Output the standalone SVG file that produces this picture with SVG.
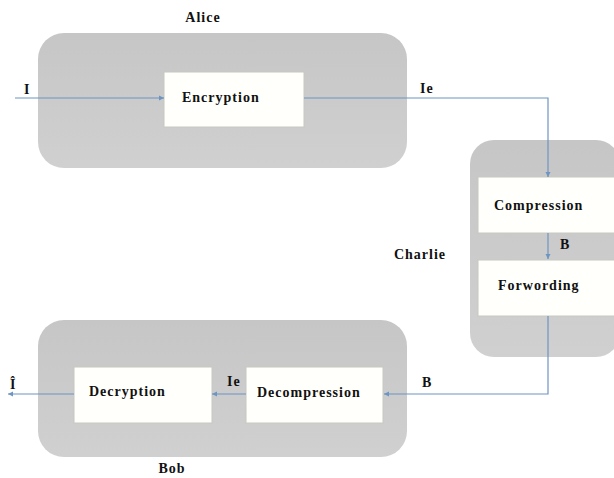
<svg xmlns="http://www.w3.org/2000/svg" width="614" height="478" viewBox="0 0 614 478">
<style>
.cont{fill:url(#g);}
.box{fill:#fffffb;stroke:#c8c8c0;stroke-width:1;}
.t{font-family:"Liberation Serif",serif;font-weight:bold;font-size:14px;letter-spacing:1px;fill:#111;}
.c{fill:none;stroke:#6d95c2;stroke-width:1.2;}
</style>
<defs>
<linearGradient id="g" x1="0" y1="0" x2="0" y2="1">
<stop offset="0" stop-color="#c6c6c6"/>
<stop offset="1" stop-color="#d0d0d0"/>
</linearGradient>
<marker id="a" markerWidth="6" markerHeight="6" refX="5" refY="3" orient="auto" markerUnits="userSpaceOnUse">
<path d="M0,0.5 L5,3 L0,5.5 z" fill="#6d95c2"/>
</marker>
</defs>
<g id="alice">
<rect class="cont" x="38" y="33" width="369" height="135" rx="26"/>
<text class="t" x="203" y="22" text-anchor="middle">Alice</text>
</g>
<g id="charlie">
<rect class="cont" x="470" y="140" width="150" height="217" rx="24"/>
<text class="t" x="420" y="259" text-anchor="middle">Charlie</text>
</g>
<g id="bob">
<rect class="cont" x="38" y="320" width="369" height="137" rx="26"/>
<text class="t" x="172" y="473" text-anchor="middle">Bob</text>
</g>
<g id="encryption">
<rect class="box" x="164" y="72" width="140" height="55"/>
<text class="t" x="182" y="102">Encryption</text>
</g>
<g id="compression">
<rect class="box" x="478" y="177" width="140" height="56"/>
<text class="t" x="494" y="210">Compression</text>
</g>
<g id="forwarding">
<rect class="box" x="478" y="260" width="140" height="56"/>
<text class="t" x="498" y="290">Forwording</text>
</g>
<g id="decompression">
<rect class="box" x="246" y="367" width="137" height="56"/>
<text class="t" x="257" y="397">Decompression</text>
</g>
<g id="decryption">
<rect class="box" x="74" y="367" width="138" height="56"/>
<text class="t" x="89" y="396">Decryption</text>
</g>
<g id="connectors">
<path class="c" d="M15,98 H164" marker-end="url(#a)"/>
<path class="c" d="M304,98 H548 V177" marker-end="url(#a)"/>
<path class="c" d="M548,233 V259" marker-end="url(#a)"/>
<path class="c" d="M548,316 V394 H384" marker-end="url(#a)"/>
<path class="c" d="M246,394 H212" marker-end="url(#a)"/>
<path class="c" d="M74,394 H8" marker-end="url(#a)"/>
<text class="t" x="24" y="94">I</text>
<text class="t" x="420" y="93">Ie</text>
<text class="t" x="560" y="249">B</text>
<text class="t" x="422" y="387">B</text>
<text class="t" x="227" y="386">Ie</text>
<text class="t" x="10" y="389">Î</text>
</g>
</svg>
